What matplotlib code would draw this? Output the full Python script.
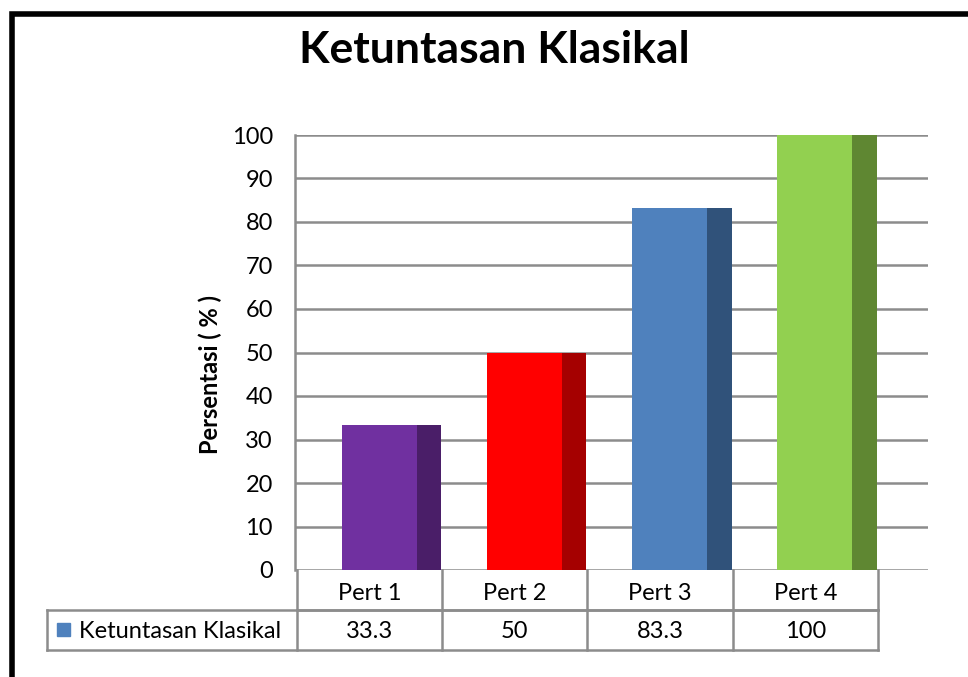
import matplotlib.pyplot as plt
import numpy as np

plt.rcParams['font.family'] = ['Lato', 'DejaVu Sans']

categories = ["Pert 1", "Pert 2", "Pert 3", "Pert 4"]
values = [33.3, 50, 83.3, 100]
value_labels = ["33.3", "50", "83.3", "100"]
series_name = "Ketuntasan Klasikal"
face_colors = ["#7030A0", "#FF0000", "#4F81BD", "#92D050"]
side_colors = ["#4A1E68", "#A50000", "#30527A", "#5F8732"]
yticks = np.arange(0, 101, 10)

W, H = 968, 677
fig = plt.figure(figsize=(W / 100, H / 100), dpi=100)

# overlay in pixel coordinates for border and data table
ov = fig.add_axes([0, 0, 1, 1])
ov.set_xlim(0, W)
ov.set_ylim(H, 0)
ov.axis('off')

grid_c = "#8C8C8C"

# plot area (pixels)
x0, x1, ytop, ybot = 295, 928, 135, 570
col_w = 145.2
ax = fig.add_axes([x0 / W, (H - ybot) / H, (x1 - x0) / W, (ybot - ytop) / H])
ax.set_xlim(0, (x1 - x0) / col_w)
ax.set_ylim(0, 100)
ax.set_yticks(yticks)
ax.set_yticklabels([str(t) for t in yticks], fontsize=17)
ax.tick_params(axis='y', length=0, pad=16)
ax.set_xticks([])
for s in ['top', 'right', 'bottom']:
    ax.spines[s].set_visible(False)
ax.spines['left'].set_color(grid_c)
ax.spines['left'].set_linewidth(1.8)
ax.yaxis.grid(True, color=grid_c, linewidth=1.8)
ax.set_axisbelow(True)
ax.set_facecolor('none')

idx = np.arange(len(categories))
face_w = 0.515
side_w = 0.17
face_left = idx + 0.322
ax.bar(face_left, values, width=face_w, align='edge', color=face_colors, zorder=3)
ax.bar(face_left + face_w, values, width=side_w, align='edge', color=side_colors, zorder=3)

ax.set_ylabel("Persentasi ( % )", fontsize=17, fontweight='bold')
ax.yaxis.set_label_coords(-(x0 - 222) / (x1 - x0), 0.45)

fig.text(494 / W, 1 - 50 / H, "Ketuntasan Klasikal", fontsize=32, fontweight='bold',
         ha='center', va='center')

# data table
tx0 = 297
row1, row2, row3 = 570, 610, 650
lab_x = 47
tcol = "#8C8C8C"
lw = 1.8
n = len(categories)
right = tx0 + n * col_w
ov.plot([tx0, right], [row2, row2], color=tcol, lw=lw)
ov.plot([lab_x, right], [row2, row2], color=tcol, lw=lw)
ov.plot([lab_x, right], [row3, row3], color=tcol, lw=lw)
ov.plot([lab_x, lab_x], [row2, row3], color=tcol, lw=lw)
for i in range(n + 1):
    xx = tx0 + i * col_w
    ov.plot([xx, xx], [row1, row3], color=tcol, lw=lw)
for i, (c, v) in enumerate(zip(categories, value_labels)):
    cx = tx0 + (i + 0.5) * col_w
    ov.text(cx, (row1 + row2) / 2 + 4, c, fontsize=17, ha='center', va='center')
    ov.text(cx, (row2 + row3) / 2 + 1, v, fontsize=17, ha='center', va='center')
ov.add_patch(plt.Rectangle((57, 623), 13, 13, color=face_colors[2]))
ov.text(79, (row2 + row3) / 2 + 1, series_name, fontsize=17, ha='left', va='center')

# outer border
ov.plot([12, 12, W + 10], [H + 10, 14, 14], color='black', lw=4, solid_joinstyle='miter')

fig.savefig("out.png", dpi=100)
